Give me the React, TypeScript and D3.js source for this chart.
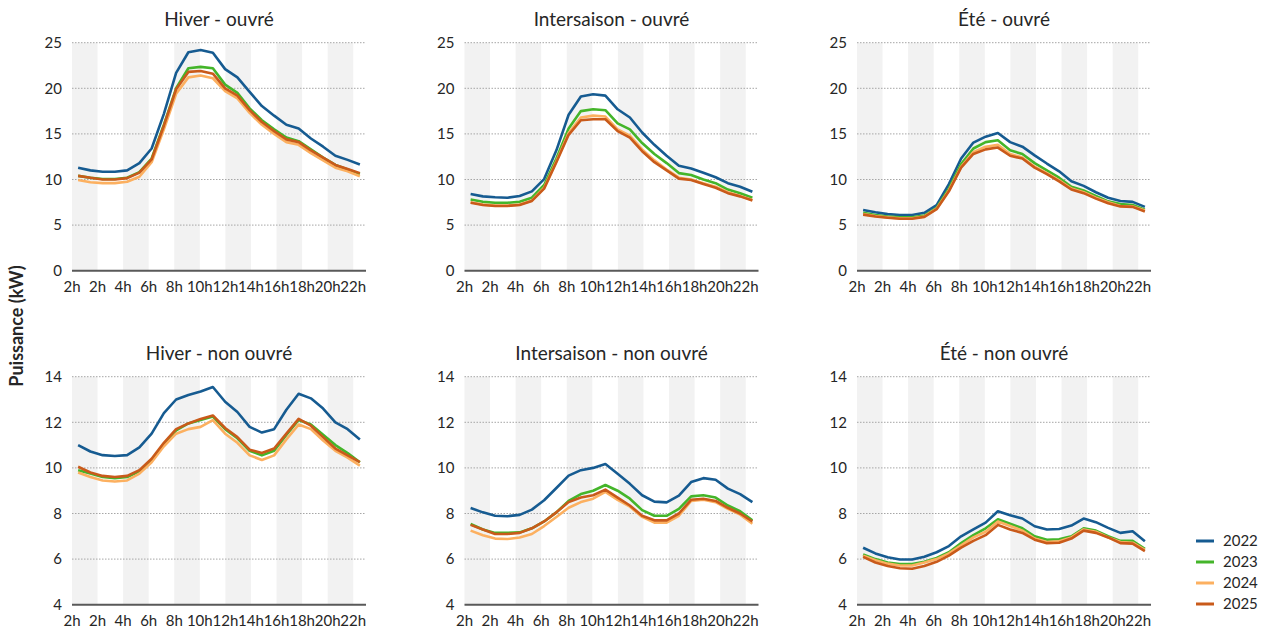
import React from "react";
import * as d3 from "d3";

const hours = d3.range(24);
const tickLabels = ["2h", "2h", "4h", "6h", "8h", "10h", "12h", "14h", "16h", "18h", "20h", "22h"];
const years = ["2022", "2023", "2024", "2025"];
const yearColors = ["#165b91", "#44b52a", "#fcb060", "#c95a1a"];

// Hiver - ouvré
const HO_2022 = [11.3, 11.0, 10.85, 10.85, 11.0, 11.8, 13.4, 17.2, 21.7, 23.95, 24.2, 23.9, 22.1, 21.2, 19.6, 18.05, 17.0, 16.0, 15.6, 14.5, 13.6, 12.6, 12.15, 11.65];
const HO_2023 = [10.4, 10.2, 10.05, 10.05, 10.2, 10.8, 12.3, 16.0, 20.0, 22.2, 22.35, 22.2, 20.4, 19.5, 17.8, 16.5, 15.5, 14.6, 14.2, 13.3, 12.4, 11.6, 11.1, 10.6];
const HO_2024 = [9.95, 9.7, 9.6, 9.6, 9.75, 10.3, 11.9, 15.5, 19.4, 21.2, 21.4, 21.1, 19.7, 18.9, 17.3, 16.0, 15.0, 14.1, 13.8, 12.9, 12.1, 11.3, 10.9, 10.35];
const HO_2025 = [10.4, 10.2, 10.0, 10.0, 10.15, 10.75, 12.2, 15.9, 19.9, 21.8, 21.9, 21.6, 20.0, 19.2, 17.6, 16.3, 15.3, 14.4, 14.1, 13.2, 12.4, 11.6, 11.15, 10.7];

// Intersaison - ouvré
const IO_2022 = [8.4, 8.15, 8.05, 8.0, 8.2, 8.7, 10.05, 13.2, 17.1, 19.1, 19.35, 19.2, 17.7, 16.8, 15.15, 13.8, 12.6, 11.5, 11.2, 10.75, 10.25, 9.6, 9.2, 8.65];
const IO_2023 = [7.8, 7.55, 7.45, 7.45, 7.55, 8.0, 9.4, 12.3, 15.6, 17.5, 17.7, 17.6, 16.15, 15.5, 14.0, 12.8, 11.8, 10.7, 10.5, 10.0, 9.6, 8.9, 8.5, 8.0];
const IO_2024 = [7.5, 7.25, 7.15, 7.15, 7.25, 7.7, 9.1, 12.0, 15.1, 16.8, 17.0, 16.9, 15.5, 14.8, 13.3, 12.1, 11.1, 10.2, 10.0, 9.6, 9.2, 8.6, 8.2, 7.75];
const IO_2025 = [7.45, 7.2, 7.1, 7.1, 7.2, 7.65, 9.0, 11.9, 14.9, 16.5, 16.6, 16.6, 15.3, 14.6, 13.1, 11.9, 11.0, 10.1, 9.95, 9.5, 9.1, 8.5, 8.15, 7.7];

// Été - ouvré
const EO_2022 = [6.65, 6.4, 6.2, 6.1, 6.1, 6.35, 7.2, 9.5, 12.3, 14.05, 14.7, 15.1, 14.1, 13.6, 12.65, 11.75, 10.9, 9.8, 9.3, 8.6, 8.0, 7.65, 7.55, 7.0];
const EO_2023 = [6.35, 6.1, 5.95, 5.85, 5.85, 6.05, 6.9, 9.0, 11.7, 13.4, 14.1, 14.3, 13.2, 12.8, 11.8, 11.0, 10.2, 9.2, 8.8, 8.2, 7.6, 7.3, 7.2, 6.7];
const EO_2024 = [6.2, 6.0, 5.85, 5.75, 5.75, 5.95, 6.8, 8.8, 11.4, 13.0, 13.6, 13.8, 12.8, 12.4, 11.4, 10.7, 9.9, 9.0, 8.6, 8.0, 7.5, 7.1, 7.05, 6.6];
const EO_2025 = [6.15, 5.95, 5.8, 5.7, 5.7, 5.9, 6.75, 8.7, 11.3, 12.8, 13.3, 13.5, 12.6, 12.3, 11.3, 10.6, 9.8, 8.9, 8.5, 7.9, 7.4, 7.05, 7.0, 6.5];

// Hiver - non ouvré
const HN_2022 = [11.0, 10.72, 10.56, 10.52, 10.56, 10.9, 11.5, 12.4, 13.0, 13.2, 13.35, 13.55, 12.9, 12.45, 11.8, 11.55, 11.7, 12.55, 13.25, 13.05, 12.6, 12.0, 11.7, 11.25];
const HN_2023 = [9.9, 9.75, 9.6, 9.55, 9.6, 9.85, 10.35, 11.05, 11.65, 11.95, 12.1, 12.25, 11.7, 11.3, 10.75, 10.55, 10.75, 11.45, 12.1, 11.9, 11.45, 11.0, 10.65, 10.25];
const HN_2024 = [9.8, 9.6, 9.45, 9.4, 9.45, 9.75, 10.25, 10.95, 11.5, 11.7, 11.8, 12.1, 11.5, 11.1, 10.55, 10.35, 10.55, 11.25, 11.9, 11.7, 11.2, 10.75, 10.45, 10.1];
const HN_2025 = [10.05, 9.8, 9.65, 9.6, 9.65, 9.9, 10.4, 11.1, 11.7, 11.95, 12.15, 12.3, 11.75, 11.35, 10.8, 10.65, 10.85, 11.5, 12.15, 11.85, 11.35, 10.85, 10.55, 10.25];

// Intersaison - non ouvré
const IN_2022 = [8.24, 8.05, 7.9, 7.88, 7.94, 8.17, 8.58, 9.12, 9.66, 9.9, 10.0, 10.17, 9.74, 9.3, 8.8, 8.52, 8.49, 8.78, 9.38, 9.55, 9.48, 9.09, 8.85, 8.5];
const IN_2023 = [7.54, 7.3, 7.15, 7.15, 7.17, 7.35, 7.65, 8.05, 8.55, 8.85, 9.0, 9.25, 9.0, 8.65, 8.15, 7.9, 7.9, 8.2, 8.75, 8.8, 8.7, 8.35, 8.1, 7.7];
const IN_2024 = [7.25, 7.05, 6.9, 6.88, 6.95, 7.1, 7.45, 7.85, 8.25, 8.5, 8.65, 8.95, 8.6, 8.3, 7.85, 7.6, 7.6, 7.9, 8.55, 8.6, 8.5, 8.2, 7.95, 7.55];
const IN_2025 = [7.5, 7.3, 7.1, 7.1, 7.15, 7.35, 7.65, 8.05, 8.5, 8.7, 8.8, 9.05, 8.7, 8.35, 7.9, 7.7, 7.7, 8.0, 8.6, 8.65, 8.55, 8.25, 8.0, 7.65];

// Été - non ouvré
const EN_2022 = [6.5, 6.25, 6.08, 5.98, 5.98, 6.1, 6.3, 6.57, 7.0, 7.3, 7.6, 8.1, 7.92, 7.78, 7.44, 7.3, 7.32, 7.47, 7.78, 7.62, 7.37, 7.15, 7.22, 6.78];
const EN_2023 = [6.2, 6.0, 5.85, 5.78, 5.78, 5.88, 6.05, 6.3, 6.7, 7.05, 7.35, 7.75, 7.55, 7.35, 7.0, 6.85, 6.87, 7.0, 7.35, 7.25, 7.0, 6.8, 6.8, 6.45];
const EN_2024 = [6.15, 5.95, 5.8, 5.72, 5.72, 5.85, 6.0, 6.25, 6.6, 6.95, 7.2, 7.65, 7.45, 7.25, 6.9, 6.75, 6.78, 6.95, 7.3, 7.2, 6.95, 6.75, 6.72, 6.4];
const EN_2025 = [6.1, 5.85, 5.7, 5.6, 5.58, 5.7, 5.88, 6.15, 6.5, 6.8, 7.05, 7.5, 7.3, 7.15, 6.85, 6.7, 6.72, 6.9, 7.25, 7.15, 6.95, 6.7, 6.68, 6.35];

const titles = [
  ["Hiver - ouvré", "Intersaison - ouvré", "Été - ouvré"],
  ["Hiver - non ouvré", "Intersaison - non ouvré", "Été - non ouvré"],
];
const panelData = [
  [[HO_2022, HO_2023, HO_2024, HO_2025], [IO_2022, IO_2023, IO_2024, IO_2025], [EO_2022, EO_2023, EO_2024, EO_2025]],
  [[HN_2022, HN_2023, HN_2024, HN_2025], [IN_2022, IN_2023, IN_2024, IN_2025], [EN_2022, EN_2023, EN_2024, EN_2025]],
];
const yTicksTop = [0, 5, 10, 15, 20, 25];
const yTicksBottom = [4, 6, 8, 10, 12, 14];

const FONT = "Lato, 'Open Sans', sans-serif";
const TEXT = "#262626";
const PLOT_W = 294;
const PLOT_H = 228;
const LEFTS = [72, 464.5, 857];
const TOPS = [42.7, 376.7];

function Panel({ left, top, title, series, ticks }) {
  const x = d3.scalePoint().domain(hours).range([left, left + PLOT_W]).padding(0.5);
  const xb = d3.scaleLinear().domain([0, 11.5]).range([left, left + PLOT_W]);
  const y = d3.scaleLinear().domain([ticks[0], ticks[ticks.length - 1]]).range([top + PLOT_H, top]);
  const line = d3.line().x((_, i) => x(i)).y((d) => y(d));
  const bands = d3.range(0, 12, 2);
  const baseY = y(ticks[0]);
  const topY = y(ticks[ticks.length - 1]);
  return (
    <g>
      {bands.map((b) => (
        <rect key={b} x={xb(b)} y={topY} width={xb(b + 1) - xb(b)} height={baseY - topY} fill="#f2f2f2" />
      ))}
      {ticks.slice(1).map((t) => (
        <line key={t} x1={left} x2={left + PLOT_W} y1={y(t)} y2={y(t)} stroke="#a6a6a6" strokeWidth={1} strokeDasharray="1.5,1.5" />
      ))}
      <line x1={left} x2={left + PLOT_W} y1={baseY} y2={baseY} stroke="#595959" strokeWidth={2} />
      {ticks.map((t) => (
        <text key={t} x={left - 10} y={y(t)} dy="0.35em" textAnchor="end" fontSize={15} fontFamily={FONT} fill={TEXT}>{t}</text>
      ))}
      {tickLabels.map((l, i) => (
        <text key={i} x={xb(i)} y={baseY + 21} textAnchor="middle" fontSize={15} fontFamily={FONT} fill={TEXT}>{l}</text>
      ))}
      {series.map((s, k) => (
        <path key={k} d={line(s)} fill="none" stroke={yearColors[k]} strokeWidth={2.6} strokeLinejoin="round" />
      ))}
      <text x={left + PLOT_W / 2} y={top - 17} textAnchor="middle" fontSize={19} fontFamily={FONT} fill={TEXT}>{title}</text>
    </g>
  );
}

export default function App() {
  return (
    <svg width={1264} height={630} style={{ position: "absolute", left: 0, top: 0, background: "#fff" }}>
      {TOPS.map((top, r) =>
        LEFTS.map((left, c) => (
          <Panel key={`${r}-${c}`} left={left} top={top} title={titles[r][c]} series={panelData[r][c]} ticks={r === 0 ? yTicksTop : yTicksBottom} />
        ))
      )}
      <text transform="translate(23,326) rotate(-90)" textAnchor="middle" fontSize={18} fontWeight="bold" fontFamily={FONT} fill={TEXT}>Puissance (kW)</text>
      {years.map((yr, i) => (
        <g key={yr}>
          <line x1={1196} x2={1214} y1={541 + i * 21} y2={541 + i * 21} stroke={yearColors[i]} strokeWidth={3} />
          <text x={1223} y={541 + i * 21} dy="0.35em" fontSize={15} fontFamily={FONT} fill={TEXT}>{yr}</text>
        </g>
      ))}
    </svg>
  );
}
